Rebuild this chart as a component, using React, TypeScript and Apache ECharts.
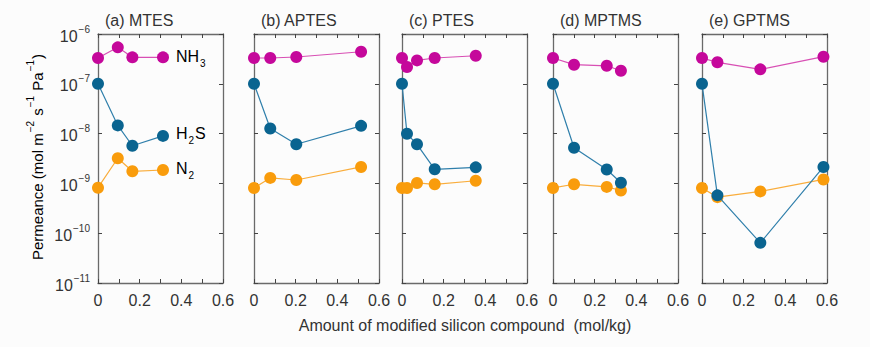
import React, { useEffect, useRef } from "react";
import * as echarts from "echarts";

const panelTitles = ["(a) MTES", "(b) APTES", "(c) PTES", "(d) MPTMS", "(e) GPTMS"];
const xTicks = [0, 0.2, 0.4, 0.6];
const yTickExponents = [-11, -10, -9, -8, -7, -6];

// [x, permeance]
const nh3A = [[0, 3.3e-7], [0.095, 5.4e-7], [0.165, 3.4e-7], [0.312, 3.4e-7]];
const h2sA = [[0, 1e-7], [0.095, 1.46e-8], [0.165, 5.7e-9], [0.312, 9e-9]];
const n2A = [[0, 8.2e-10], [0.095, 3.2e-9], [0.165, 1.75e-9], [0.312, 1.86e-9]];

const nh3B = [[0, 3.3e-7], [0.078, 3.3e-7], [0.203, 3.45e-7], [0.514, 4.4e-7]];
const h2sB = [[0, 1e-7], [0.078, 1.27e-8], [0.203, 6.1e-9], [0.514, 1.43e-8]];
const n2B = [[0, 8.1e-10], [0.078, 1.29e-9], [0.203, 1.17e-9], [0.514, 2.14e-9]];

const nh3C = [[0, 3.3e-7], [0.024, 2.17e-7], [0.072, 2.95e-7], [0.157, 3.3e-7], [0.354, 3.66e-7]];
const h2sC = [[0, 1e-7], [0.024, 9.9e-9], [0.072, 6.1e-9], [0.157, 1.92e-9], [0.354, 2.1e-9]];
const n2C = [[0, 8.1e-10], [0.024, 8.1e-10], [0.072, 1.02e-9], [0.157, 9.6e-10], [0.354, 1.13e-9]];

const nh3D = [[0, 3.3e-7], [0.101, 2.42e-7], [0.258, 2.3e-7], [0.326, 1.83e-7]];
const h2sD = [[0, 1e-7], [0.101, 5.2e-9], [0.258, 1.9e-9], [0.326, 1.03e-9]];
const n2D = [[0, 8.1e-10], [0.101, 9.6e-10], [0.258, 8.5e-10], [0.326, 7.2e-10]];

const nh3E = [[0, 3.3e-7], [0.074, 2.7e-7], [0.28, 1.95e-7], [0.583, 3.5e-7]];
const h2sE = [[0, 1e-7], [0.074, 5.75e-10], [0.28, 6.4e-11], [0.583, 2.14e-9]];
const n2E = [[0, 8.1e-10], [0.074, 5.3e-10], [0.28, 6.9e-10], [0.583, 1.2e-9]];

const nh3Sets = [nh3A, nh3B, nh3C, nh3D, nh3E];
const h2sSets = [h2sA, h2sB, h2sC, h2sD, h2sE];
const n2Sets = [n2A, n2B, n2C, n2D, n2E];

const FONT = "'Liberation Sans', Arial, sans-serif";
const TEXT = "#333";
const AXIS = "#6a6a6a";
const C_NH3 = "#c5089b";
const C_H2S = "#0a6490";
const C_N2 = "#f99c0c";
const L_NH3 = "#d84fb4";
const L_H2S = "#2f7fab";
const L_N2 = "#f9ad3c";

const panelLeft = [98, 254, 402, 553, 702];
const PANEL_W = 125;
const TOP = 34;
const BOTTOM_Y = 283;

export default function App() {
  const ref = useRef<HTMLDivElement>(null);
  useEffect(() => {
    if (!ref.current) return;
    const chart = echarts.init(ref.current, null, { renderer: "svg" });
    const grids: any[] = [];
    const xAxes: any[] = [];
    const yAxes: any[] = [];
    const series: any[] = [];
    const titles: any[] = [];

    const xLabel = (v: number) => {
      const r = Math.round(v * 10);
      if (r % 2 !== 0) return "";
      if (!xTicks.some((t) => Math.abs(t - r / 10) < 1e-6)) return "";
      return r === 0 ? "0" : (r / 10).toFixed(1);
    };
    const yLabel = (v: number) => {
      const e = Math.round(Math.log10(v));
      if (!yTickExponents.includes(e)) return "";
      return `{b|10}{s|−${-e}}`;
    };

    for (let i = 0; i < 5; i++) {
      grids.push({
        left: panelLeft[i],
        top: TOP,
        width: PANEL_W,
        height: BOTTOM_Y - TOP,
        containLabel: false,
      });
      titles.push({
        text: panelTitles[i],
        left: panelLeft[i] + 7,
        top: 12,
        padding: 0,
        textStyle: { fontSize: 16, fontWeight: "normal", color: TEXT, fontFamily: FONT },
      });
      const xBase = {
        type: "value",
        gridIndex: i,
        min: 0,
        max: 0.6,
        interval: 0.1,
        splitLine: { show: false },
        axisLine: { show: true, onZero: false, lineStyle: { color: AXIS, width: 1.3 } },
        axisTick: { show: true, inside: true, length: 4, lineStyle: { color: "#444", width: 1 } },
      };
      xAxes.push({
        ...xBase,
        position: "bottom",
        axisLabel: {
          show: true,
          formatter: xLabel,
          fontSize: 16,
          color: TEXT,
          fontFamily: FONT,
          margin: 9,
          showMinLabel: true,
          showMaxLabel: true,
        },
      });
      xAxes.push({
        ...xBase,
        position: "top",
        axisLabel: { show: false },
      });
      const yBase = {
        type: "log",
        logBase: 10,
        gridIndex: i,
        min: 1e-11,
        max: 1e-6,
        splitLine: { show: false },
        minorTick: { show: false },
        axisLine: { show: true, onZero: false, lineStyle: { color: AXIS, width: 1.3 } },
        axisTick: { show: true, inside: true, length: 4, lineStyle: { color: "#444", width: 1 } },
      };
      yAxes.push({
        ...yBase,
        position: "left",
        axisLabel: i === 0
          ? {
              show: true,
              formatter: yLabel,
              margin: 8,
              color: TEXT,
              fontFamily: FONT,
              rich: {
                b: { fontSize: 16, color: TEXT, fontFamily: FONT, verticalAlign: "bottom", lineHeight: 20 },
                s: { fontSize: 10, color: TEXT, fontFamily: FONT, verticalAlign: "top", lineHeight: 20, padding: [0, 0, 0, 1] },
              },
            }
          : { show: false },
      });
      yAxes.push({
        ...yBase,
        position: "right",
        axisLabel: { show: false },
      });

      const mk = (name: string, data: number[][], c: string, lc: string, z: number) => ({
        name,
        type: "line",
        xAxisIndex: i * 2,
        yAxisIndex: i * 2,
        data,
        symbol: "circle",
        symbolSize: 12,
        clip: false,
        z,
        itemStyle: { color: c },
        lineStyle: { color: lc, width: 1.2 },
      });
      series.push(mk("N2", n2Sets[i], C_N2, L_N2, 2));
      series.push(mk("H2S", h2sSets[i], C_H2S, L_H2S, 3));
      series.push(mk("NH3", nh3Sets[i], C_NH3, L_NH3, 4));
    }

    const subRich = {
      b: { fontSize: 16, color: TEXT, fontFamily: FONT, lineHeight: 20, verticalAlign: "top" },
      sub: { fontSize: 10, color: TEXT, fontFamily: FONT, lineHeight: 20, verticalAlign: "bottom", padding: [0, 1, 0, 1] },
    };
    const supRich = {
      b: { fontSize: 15, color: TEXT, fontFamily: FONT, lineHeight: 19, verticalAlign: "bottom" },
      sup: { fontSize: 10, color: TEXT, fontFamily: FONT, lineHeight: 19, verticalAlign: "top", padding: [0, 1, 0, 1] },
    };

    chart.setOption({
      animation: false,
      backgroundColor: "#fcfcfc",
      title: titles,
      grid: grids,
      xAxis: xAxes,
      yAxis: yAxes,
      series,
      graphic: [
        {
          type: "text",
          x: 176,
          y: 58,
          style: { text: "{b|NH}{sub|3}", rich: subRich, textVerticalAlign: "middle", textAlign: "left" },
        },
        {
          type: "text",
          x: 176,
          y: 135,
          style: { text: "{b|H}{sub|2}{b|S}", rich: subRich, textVerticalAlign: "middle", textAlign: "left" },
        },
        {
          type: "text",
          x: 176,
          y: 170,
          style: { text: "{b|N}{sub|2}", rich: subRich, textVerticalAlign: "middle", textAlign: "left" },
        },
        {
          type: "text",
          x: 465,
          y: 325,
          style: {
            text: "Amount of modified silicon compound  (mol/kg)",
            fontSize: 16,
            fontFamily: FONT,
            fill: TEXT,
            textAlign: "center",
            textVerticalAlign: "middle",
          },
        },
        {
          type: "text",
          x: 35,
          y: 157,
          rotation: Math.PI / 2,
          style: {
            text: "{b|Permeance (mol m}{sup|−2}{b| s}{sup|−1}{b| Pa}{sup|−1}{b|)}",
            rich: supRich,
            textAlign: "center",
            textVerticalAlign: "middle",
          },
        },
      ],
    });
    return () => chart.dispose();
  }, []);
  return (
    <div
      ref={ref}
      style={{ position: "fixed", left: 0, top: 0, width: 870, height: 347 }}
    />
  );
}
